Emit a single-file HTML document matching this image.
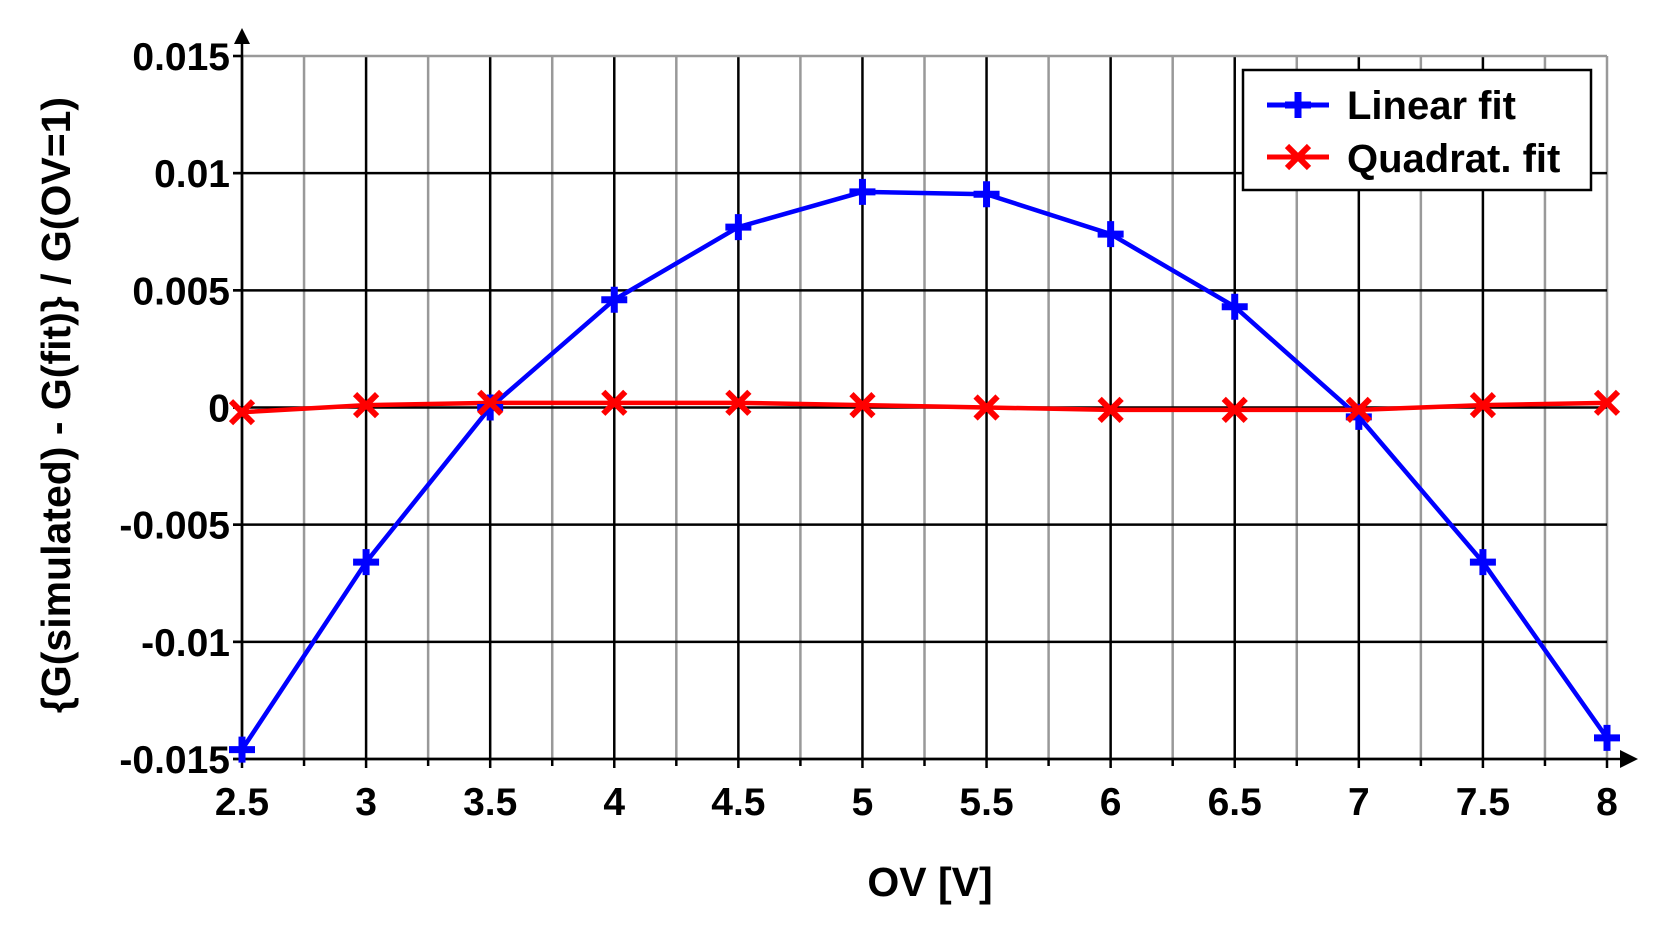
<!DOCTYPE html><html><head><style>body{margin:0;background:#fff}svg{display:block}text{font-family:"Liberation Sans",Arial,sans-serif;font-weight:bold}</style></head><body>
<svg id="s" width="1662" height="926" xmlns="http://www.w3.org/2000/svg"></svg>
<script>
const s=document.getElementById('s');let h='';
const X=v=>242+(v-2.5)*1365/5.5, Y=v=>56+(0.015-v)*703/0.03;
for(let i=0;i<=22;i++){const v=2.5+i*0.25,x=X(v);const major=i%2==0;
 h+=`<line x1="${x}" y1="56" x2="${x}" y2="759" stroke="${major&&i<22?'#000':'#999'}" stroke-width="2.5"/>`;
 h+=`<line x1="${x}" y1="759" x2="${x}" y2="${major?768:766}" stroke="#000" stroke-width="2.5"/>`;
 if(major)h+=`<text x="${x}" y="815" font-size="39" text-anchor="middle">${+v.toFixed(1)}</text>`;}
const yl=['0.015','0.01','0.005','0','-0.005','-0.01','-0.015'];
for(let i=0;i<7;i++){const v=0.015-i*0.005,y=Y(v);
 h+=`<line x1="233" y1="${y}" x2="1607" y2="${y}" stroke="${i==0?'#999':'#000'}" stroke-width="2.5"/>`;
 h+=`<line x1="233" y1="${y}" x2="242" y2="${y}" stroke="#000" stroke-width="2.5"/>`;
 h+=`<text x="230" y="${y+14}" font-size="39" text-anchor="end">${yl[i]}</text>`;}
h+=`<line x1="242" y1="759" x2="242" y2="40" stroke="#000" stroke-width="2.5"/><polygon points="242,28 234,44 250,44"/>`;
h+=`<line x1="242" y1="759" x2="1625" y2="759" stroke="#000" stroke-width="2.5"/><polygon points="1638,759 1620,750 1620,768"/>`;
const xs=[2.5,3,3.5,4,4.5,5,5.5,6,6.5,7,7.5,8];
const L=[-0.0146,-0.0066,0,0.0046,0.0077,0.0092,0.0091,0.0074,0.0043,-0.0004,-0.0066,-0.0141];
const Q=[-0.0002,0.0001,0.0002,0.0002,0.0002,0.0001,0,-0.0001,-0.0001,-0.0001,0.0001,0.0002];
const plus=(x,y)=>`<path d="M${x-13},${y}H${x+13}M${x},${y-13}V${y+13}" stroke="#00f" stroke-width="7"/>`;
const cross=(x,y)=>`<path d="M${x-11},${y-11}L${x+11},${y+11}M${x-11},${y+11}L${x+11},${y-11}" stroke="#f00" stroke-width="6"/>`;
h+=`<polyline fill="none" stroke="#00f" stroke-width="4.5" points="${xs.map((v,i)=>X(v)+','+Y(L[i])).join(' ')}"/>`;
h+=`<polyline fill="none" stroke="#f00" stroke-width="4.5" points="${xs.map((v,i)=>X(v)+','+Y(Q[i])).join(' ')}"/>`;
xs.forEach((v,i)=>{h+=plus(X(v),Y(L[i]));h+=cross(X(v),Y(Q[i]));});
h+=`<rect x="1243" y="70" width="348" height="120" fill="#fff" stroke="#000" stroke-width="2.5"/>`;
h+=`<line x1="1267" y1="105" x2="1329" y2="105" stroke="#00f" stroke-width="5"/>`+plus(1298,105);
h+=`<line x1="1267" y1="157" x2="1329" y2="157" stroke="#f00" stroke-width="5"/>`+cross(1298,157);
h+=`<text x="1347" y="119" font-size="40">Linear fit</text><text x="1347" y="172" font-size="40">Quadrat. fit</text>`;
h+=`<text x="930" y="896" font-size="41" text-anchor="middle">OV [V]</text>`;
h+=`<text transform="translate(70,405) rotate(-90)" font-size="41" text-anchor="middle">{G(simulated) - G(fit)} / G(OV=1)</text>`;
s.innerHTML=h;
</script></body></html>
